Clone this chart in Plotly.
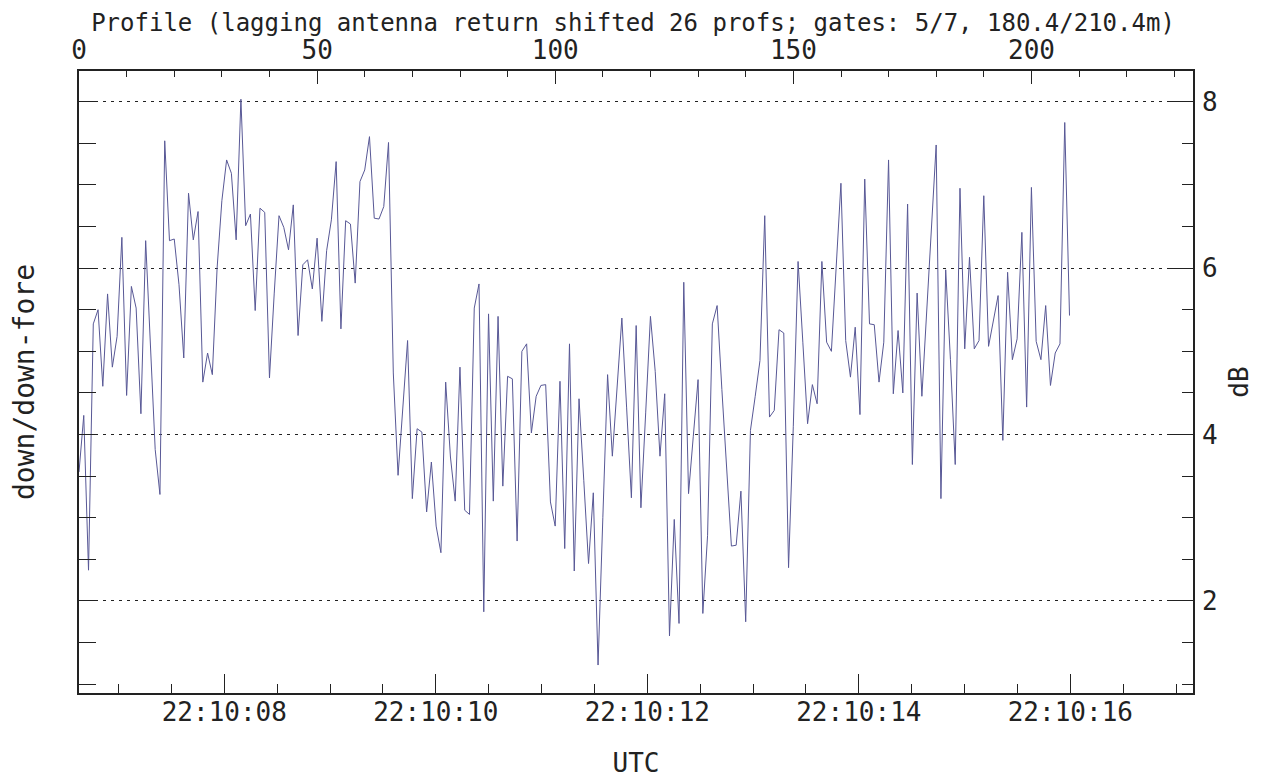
import pandas as pd
import plotly.graph_objects as go

# ---- data -------------------------------------------------------------
start_time = "2024-01-01 22:10:06.626"   # time of profile 0
profile_period_s = 0.04503                # seconds between profiles
profile_axis_range = [0, 233.9]
time_axis_range = ["2024-01-01 22:10:06.626", "2024-01-01 22:10:17.160"]
db_range = [0.894, 8.369]

ratio_db = [
    3.55, 4.23, 2.37, 5.33, 5.50, 4.58, 5.69, 4.81, 5.18, 6.37,
    4.47, 5.78, 5.52, 4.25, 6.33, 5.11, 3.82, 3.28, 7.53, 6.33,
    6.35, 5.80, 4.92, 6.90, 6.34, 6.68, 4.63, 4.98, 4.72, 6.00,
    6.81, 7.30, 7.14, 6.34, 8.03, 6.51, 6.65, 5.49, 6.72, 6.67,
    4.68, 5.70, 6.63, 6.49, 6.22, 6.76, 5.19, 6.04, 6.10, 5.75,
    6.36, 5.36, 6.21, 6.58, 7.28, 5.27, 6.57, 6.53, 5.82, 7.04,
    7.18, 7.58, 6.60, 6.59, 6.74, 7.51, 4.74, 3.51, 4.32, 5.13,
    3.23, 4.07, 4.03, 3.07, 3.67, 2.90, 2.58, 4.63, 3.73, 3.20,
    4.81, 3.09, 3.04, 5.52, 5.81, 1.87, 5.45, 3.20, 5.42, 3.38,
    4.70, 4.67, 2.72, 5.00, 5.09, 4.02, 4.46, 4.59, 4.60, 3.19,
    2.90, 4.64, 2.63, 5.09, 2.36, 4.43, 3.45, 2.45, 3.30, 1.23,
    3.00, 4.72, 3.74, 4.58, 5.40, 4.32, 3.24, 5.31, 3.12, 4.26,
    5.42, 4.76, 3.74, 4.49, 1.58, 2.98, 1.73, 5.83, 3.29, 3.98,
    4.66, 1.85, 2.79, 5.33, 5.55, 4.54, 3.60, 2.66, 2.67, 3.32,
    1.75, 4.05, 4.46, 4.89, 6.63, 4.21, 4.29, 5.26, 5.22, 2.40,
    4.10, 6.08, 5.11, 4.13, 4.60, 4.37, 6.08, 5.11, 5.00, 6.05,
    7.02, 5.13, 4.69, 5.29, 4.24, 7.07, 5.33, 5.32, 4.63, 5.11,
    7.30, 4.49, 5.25, 4.50, 6.77, 3.64, 5.70, 4.46, 5.47, 6.47,
    7.48, 3.23, 5.98, 4.90, 3.64, 6.96, 5.03, 6.13, 5.03, 5.13,
    6.87, 5.06, 5.36, 5.67, 3.93, 5.95, 4.90, 5.15, 6.43, 4.33,
    6.97, 5.12, 4.90, 5.55, 4.59, 4.98, 5.09, 7.75, 5.43,
]

title_text = "Profile (lagging antenna return shifted 26 profs; gates: 5/7, 180.4/210.4m)"
x_title = "UTC"
y_left_title = "down/down-fore"
y_right_title = "dB"

profiles = list(range(len(ratio_db)))
times = [pd.Timestamp(start_time) + pd.to_timedelta(p * profile_period_s, unit="s")
         for p in profiles]

# ---- figure -----------------------------------------------------------
FONT = "DejaVu Sans Mono"
INK = "#222222"
LINE = "rgb(88,88,150)"

# the page body has an 8px margin, so the figure is 8px smaller
W, H = 1256, 770

fig = go.Figure()
fig.add_trace(go.Scatter(
    x=times, y=ratio_db, mode="lines",
    line=dict(color=LINE, width=1),
    xaxis="x", yaxis="y", showlegend=False, name="ratio"))
fig.add_trace(go.Scatter(
    x=profiles, y=ratio_db, mode="lines",
    line=dict(color="rgba(0,0,0,0)", width=0),
    xaxis="x2", yaxis="y2", showlegend=False, hoverinfo="skip"))

fig.update_layout(
    width=W, height=H,
    margin=dict(l=71, r=71, t=63, b=85, autoexpand=False),
    paper_bgcolor="white", plot_bgcolor="white",
    font=dict(family=FONT, color=INK, size=26),
    title=dict(text=title_text, font=dict(family=FONT, size=24, color=INK),
               x=(633 - 8) / W, xref="container", xanchor="center",
               y=1 - 15 / H, yref="container", yanchor="middle"),
    xaxis=dict(
        type="date", range=time_axis_range, anchor="y",
        tickformat="%H:%M:%S", tick0="2024-01-01 22:10:08", dtick=2000,
        ticks="inside", ticklen=19, tickwidth=1, tickcolor=INK,
        minor=dict(tick0="2024-01-01 22:10:08", dtick=500, ticks="inside",
                   ticklen=9, tickwidth=1, tickcolor=INK, showgrid=False),
        showline=True, linecolor=INK, linewidth=1.5, mirror=False,
        showgrid=False, zeroline=False,
        tickfont=dict(family=FONT, size=26, color=INK),
        ticklabelstandoff=-5,
        title=dict(text=x_title, font=dict(family=FONT, size=26, color=INK),
                   standoff=36),
    ),
    xaxis2=dict(
        overlaying="x", side="top", anchor="y", range=profile_axis_range,
        tick0=0, dtick=50,
        ticks="inside", ticklen=13, tickwidth=1, tickcolor=INK,
        minor=dict(tick0=0, dtick=10, ticks="inside", ticklen=6,
                   tickwidth=1, tickcolor=INK, showgrid=False),
        showline=True, linecolor=INK, linewidth=1.5,
        showgrid=False, zeroline=False,
        tickfont=dict(family=FONT, size=26, color=INK),
        ticklabelstandoff=0,
    ),
    yaxis=dict(
        side="right", anchor="x", range=db_range,
        tick0=0, dtick=2,
        ticks="inside", ticklen=23, tickwidth=1, tickcolor=INK,
        minor=dict(tick0=0, dtick=0.5, ticks="inside", ticklen=11,
                   tickwidth=1, tickcolor=INK, showgrid=False),
        showline=True, linecolor=INK, linewidth=1.5,
        showgrid=True, gridcolor=INK, gridwidth=1, griddash="3px,5px",
        zeroline=False,
        tickfont=dict(family=FONT, size=26, color=INK),
        ticklabelstandoff=2,
        title=dict(text=y_right_title, font=dict(family=FONT, size=26, color=INK),
                   standoff=13),
    ),
    yaxis2=dict(
        overlaying="y", side="left", anchor="x", range=db_range,
        tick0=0, dtick=0.5,
        ticks="inside", ticklen=17, tickwidth=1, tickcolor=INK,
        showticklabels=False,
        showline=True, linecolor=INK, linewidth=1.5,
        showgrid=False, zeroline=False,
        title=dict(text=y_left_title, font=dict(family=FONT, size=28, color=INK),
                   standoff=40),
    ),
)

fig.write_html("out.html")
